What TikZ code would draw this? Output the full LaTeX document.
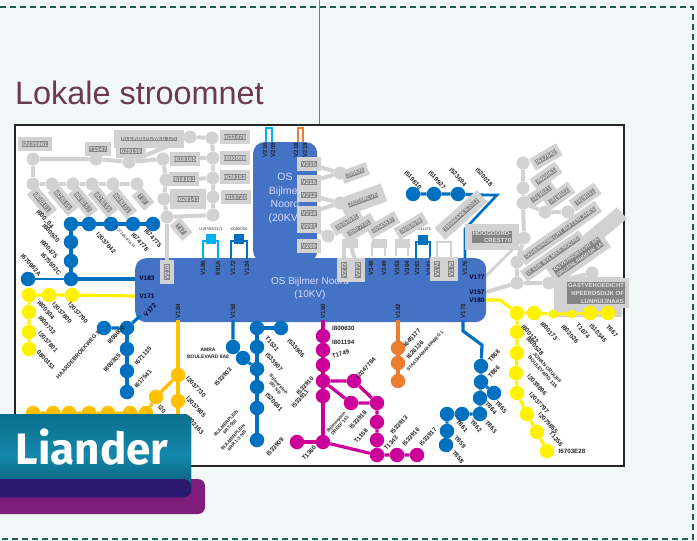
\documentclass[tikz,border=0pt]{standalone}
\usepackage{fontspec}
\setmainfont{Liberation Sans}
\newfontfamily\logofont{Fira Sans}
\usetikzlibrary{shapes.geometric}
\definecolor{bgc}{HTML}{F2F8F7}
\definecolor{bluec}{HTML}{0070C0}
\definecolor{busc}{HTML}{4472C4}
\definecolor{cyanc}{HTML}{00B0F0}
\definecolor{orangec}{HTML}{ED7D31}
\definecolor{goldc}{HTML}{FFC000}
\definecolor{yelc}{HTML}{FFF200}
\definecolor{magc}{HTML}{CC0099}
\definecolor{grayc}{HTML}{D2D2D2}
\definecolor{gtext}{HTML}{858585}
\definecolor{titlec}{HTML}{6B3A4C}
\definecolor{dashc}{HTML}{1F5C4A}
\definecolor{linec}{HTML}{3E9A7C}
\definecolor{purplec}{HTML}{7F1D7D}
\definecolor{overc}{HTML}{2A1A70}
\definecolor{tealA}{HTML}{0A6F8C}
\definecolor{tealB}{HTML}{1488AC}
\definecolor{tealC}{HTML}{0A4F68}
\tikzset{
 dotn/.style={circle,inner sep=0pt,minimum size=14.5pt},
 bd/.style={dotn,fill=bluec},
 yd/.style={dotn,fill=yelc},
 od/.style={dotn,fill=goldc},
 md/.style={dotn,fill=magc},
 rd/.style={dotn,fill=orangec},
 gd/.style={dotn,fill=grayc,minimum size=13pt},
 bl/.style={draw=bluec,line width=3.2pt},
 yl/.style={draw=yelc,line width=3.2pt},
 ol/.style={draw=goldc,line width=3.2pt},
 ml/.style={draw=magc,line width=3.2pt},
 rl/.style={draw=orangec,line width=3.2pt},
 gl/.style={draw=grayc,line width=4pt},
 bus/.style={fill=busc,rounded corners=11pt},
 gp/.style={preaction={draw=grayc,line width=#1}},
 gtag/.style={gp=8pt,fill=gtext,text=black!12,font=\fontsize{6}{6.6}\selectfont\bfseries,inner sep=.6pt,align=center},
 gsmall/.style={font=\fontsize{5.3}{6.2}\selectfont\bfseries},
 vtag/.style={font=\fontsize{6.2}{6.8}\selectfont\bfseries,text=black!85,inner sep=0pt,align=center},
 dwn/.style={vtag,rotate=-48},
 upp/.style={vtag,rotate=48},
 ver/.style={vtag,rotate=90},
 lab/.style={vtag,text=black!85!blue,font=\fontsize{6.5}{7}\selectfont\bfseries},
 wtxt/.style={text=white!85!blue,inner sep=0pt,align=center},
}
\begin{document}
\begin{tikzpicture}[x=1pt,y=-1pt]
\useasboundingbox (0,0) rectangle (697,541);
\fill[bgc] (0,0) rectangle (697,541);
\draw[dashc,line width=1.3pt,dash pattern=on 6pt off 4pt] (0,7) -- (693,7) -- (693,539) -- (0,539);
\coordinate (gtop) at (319,0); \coordinate (gbot) at (319,124);
\draw[linec,line width=1pt] (gtop) -- (gbot);
\node[anchor=west,text=titlec,font=\fontsize{32.4}{36}\selectfont,inner sep=0pt] (title) at (15,93) {Lokale stroomnet};
\node[draw=black!85,line width=1.8pt,fill=white,minimum width=609pt,minimum height=341pt,anchor=north west,inner sep=0pt] (frame) at (14,124) {};

% ---------- grey network, left
\foreach \n/\x/\y in {a1/33/159,a2/96/159,a3/129/162,a4/163/159,a5/166/180,a6/164/199,a7/167/217,
 b1/33/184,b2/52/184,b3/73/184,b4/92/184,b5/113/184,b6/137/184,
 c1/190/137,c2/212/138,c3/213/158,c4/213/178,c5/213/197,c6/213/215}
 {\node[gd] (\n) at (\x,\y) {};}
\draw[gl] (a1)--(a2)--(a3)--(a4)--(a5)--(a6)--(a7);
\draw[gl] (a1)--(b1)--(b2)--(b3)--(b4)--(b5)--(b6);
\draw[gl] (c1)--(c2)--(c3)--(c4)--(c5)--(c6);
\draw[gl] (a4)--(c3); \draw[gl] (a5)--(c4); \draw[gl] (a6)--(c5); \draw[gl] (a7)--(c6);
\draw[gl] (c1)--(a3);

% ---------- grey network, centre and right
\foreach \n/\x/\y in {d1/340/173,d2/340/203,d3/328/236,
 e1/523/163,e2/523/188,e3/523/203,e4/545/212,e5/568/212,e6/524/238,e7/517/262,e8/517/283,e9/549/283,e10/592/273}
 {\node[gd] (\n) at (\x,\y) {};}
\foreach \n/\x/\w in {d4/350/16,d5/379/15,d6/402/15}
 {\node[fill=grayc,minimum width=\w pt,minimum height=9pt,inner sep=0pt] (\n) at (\x,243) {};}
\draw[gl] (e1)--(e2)--(e3)--(e6)--(e7)--(e8)--(e9)--(e10);
\draw[gl] (e3)--(e4)--(e5);
\coordinate (f1) at (622,213); \coordinate (f2) at (556,268);
\draw[draw=grayc,line width=15pt] (f1)--(f2);
\node[fill=grayc,minimum width=68pt,minimum height=40pt,inner sep=0pt] (gbox) at (588,297) {};
\coordinate (f3) at (486,292); \coordinate (f4) at (486,276);
\draw[gl] (f3)--(e8); \draw[gl,line width=2.5pt] (f4)--(e6);

% ---------- buses
\node[bus,minimum width=64pt,minimum height=120pt,inner sep=0pt,anchor=north west] (os20) at (253,142) {};
\node[bus,minimum width=351pt,minimum height=64pt,inner sep=0pt,anchor=north west] (os10) at (135,258) {};
\node[wtxt,font=\fontsize{10.5}{13.6}\selectfont,anchor=north] (t20) at (285,173) {OS\\Bijlmer\\Noord\\(20KV)};
\node[wtxt,font=\fontsize{10}{13}\selectfont,anchor=north] (t10) at (310,277) {OS Bijlmer Noord\\(10KV)};

% ---------- top loops on the 20 kV bus
\coordinate (l1) at (266,142); \coordinate (l2) at (266,128); \coordinate (l3) at (272,128); \coordinate (l4) at (272,142);
\draw[cyanc,line width=1.9pt] (l1)--(l2)--(l3)--(l4);
\coordinate (m1) at (298,142); \coordinate (m2) at (298,128); \coordinate (m3) at (303,128); \coordinate (m4) at (303,142);
\draw[orangec,line width=1.9pt] (m1)--(m2)--(m3)--(m4);
\node[ver] (v1) at (265,150) {V216};
\node[ver] (v2) at (273,150) {V209};
\node[ver] (v3) at (296,150) {V218};
\node[ver] (v4) at (305,150) {V219};

% ---------- small loops on the 10 kV bus
\node[fill=cyanc,minimum size=9.5pt,inner sep=0pt] (q1) at (211,239) {};
\coordinate (q1a) at (203,259); \coordinate (q1b) at (203,241); \coordinate (q1c) at (218,241); \coordinate (q1d) at (218,259);
\draw[cyanc,line width=2.2pt] (q1a)--(q1b)--(q1c)--(q1d);
\node[fill=bluec,minimum size=9.5pt,inner sep=0pt] (q2) at (239,239) {};
\coordinate (q2a) at (231,259); \coordinate (q2b) at (231,241); \coordinate (q2c) at (247,241); \coordinate (q2d) at (247,259);
\draw[bluec,line width=2.2pt] (q2a)--(q2b)--(q2c)--(q2d);
\node[fill=bluec,minimum size=9.5pt,inner sep=0pt] (q3) at (423,240) {};
\coordinate (q3a) at (416,259); \coordinate (q3b) at (416,242); \coordinate (q3c) at (430,242); \coordinate (q3d) at (430,259);
\draw[bluec,line width=2.2pt] (q3a)--(q3b)--(q3c)--(q3d);
\node[vtag,font=\fontsize{3.8}{4}\selectfont] (q1t) at (211,229) {U197/85/2C/1};
\node[vtag,font=\fontsize{3.8}{4}\selectfont] (q2t) at (239,229) {I0080/700};
\node[vtag,font=\fontsize{3.8}{4}\selectfont] (q3t) at (423,229) {I5041275};
\foreach \n/\x/\t in {r1/203/V186,r2/218/691A,r3/233/V172,r4/247/V124,r5/371/V348,r6/384/V349,r7/397/V363,r8/407/V364,r9/417/V361,r10/429/V362,r11/465/V176}
 {\node[ver] (\n) at (\x,268) {\t};}

% ---------- grey boxes on the buses
\foreach \n/\x/\y/\t in {s1/167/272/V210,s2/344/270/V272,s3/358/270/V273,s4/437/269/V174,s5/451/269/V175}
 {\node[gtag,rotate=90] (\n) at (\x,\y) {\t};}
\draw[gl] (a7)--(s1);
\foreach \n/\y/\t in {u1/164/V215,u2/182/V215,u3/195/V212,u4/213/V214,u5/226/V207,u6/246/V209}
 {\node[gtag] (\n) at (309,\y) {\t};}
\draw[gl] (u1)--(d1); \draw[gl] (u3)--(d2); \draw[gl] (u4)--(d2); \draw[gl] (u2)--(d1); \draw[gl] (u5)--(d3);
\coordinate (s2a) at (344,243); \draw[gl] (d4)--(s2a)--(s2); \draw[gl] (d4)--(s3);
\coordinate (p1) at (372,256); \coordinate (p2) at (372,243); \coordinate (p3) at (385,243); \coordinate (p4) at (385,256);
\draw[gl,line width=2.5pt] (p1)--(p2)--(p3)--(p4);
\coordinate (p5) at (396,256); \coordinate (p6) at (396,243); \coordinate (p7) at (408,243); \coordinate (p8) at (408,256);
\draw[gl,line width=2.5pt] (p5)--(p6)--(p7)--(p8);
\coordinate (p9) at (437,258); \coordinate (p10) at (437,242); \coordinate (p11) at (451,242); \coordinate (p12) at (451,258);
\draw[gl,line width=2.5pt] (p9)--(p10)--(p11)--(p12);

% ---------- blue feeder top right
\node[bd] (h1) at (413,194) {}; \node[bd] (h2) at (434,194) {}; \node[bd] (h3) at (458,194) {};
\coordinate (h4) at (497,195); \coordinate (h5) at (465,229); \coordinate (h6) at (465,258); \coordinate (h7) at (483,195);
\draw[bl] (h1)--(h2)--(h3)--(h7);
\draw[bl,line width=2.6pt] (h7) -- (h4) -- (h5) -- (h6);

% ---------- grey labels
\node[gtag] (g1) at (35,144) {I2035961};
\node[gtag] (g2) at (98,149) {T1547};
\node[gtag,gp=14pt,gsmall] (g3) at (149,139) {KLEINBERGWEG 125};
\node[gtag] (g4) at (131,151) {629150};
\node[gtag] (g5) at (185,159) {I618165};
\node[gtag] (g6) at (184,179) {I618161};
\node[gtag,gp=14pt] (g7) at (188,199) {I628141};
\node[gtag] (g8) at (235,137) {I632478};
\node[gtag] (g9) at (235,158) {I800998};
\node[gtag] (g10) at (235,177) {I628153};
\node[gtag] (g11) at (236,197) {I618720};
\node[gtag,rotate=-50] (g12) at (42,202) {I800101};
\node[gtag,rotate=-50] (g13) at (63,200) {I628155};
\node[gtag,rotate=-50] (g14) at (83,202) {I628157};
\node[gtag,rotate=-50] (g15) at (103,202) {I628159};
\node[gtag,rotate=-50] (g16) at (122,203) {I628151};
\node[gtag,rotate=-50] (g17) at (143,199) {T37};
\node[gtag,rotate=-50] (g18) at (181,229) {T17};
\node[gtag,rotate=20,gsmall] (g19) at (355,173) {200631};
\node[gtag,rotate=20,gp=14pt,gsmall] (g20) at (363,200) {20210RCVE};
\node[gtag,rotate=30,gsmall] (g21) at (347,222) {20050081};
\node[gtag,rotate=30,gp=10pt,gsmall] (g22) at (359,228) {20077701};
\node[gtag,rotate=30,gsmall] (g23) at (383,225) {20045597};
\node[gtag,rotate=30,gsmall] (g24) at (411,226) {20050008};
\node[gtag,rotate=30] (g25) at (546,157) {I617542};
\node[gtag,rotate=35] (g26) at (546,176) {I800061};
\node[gtag,rotate=35] (g27) at (541,194) {I319021};
\node[gtag,rotate=35] (g28) at (559,196) {I319022};
\node[gtag,rotate=35] (g29) at (585,197) {I319031};
\node[gtag,rotate=35,gp=8pt,gsmall] (g30) at (560,233) {OUVERNORECHT BUITENLANES};
\node[gtag,rotate=35,gsmall] (g31) at (553,256) {IX EDE BYLMER NOORD};
\node[gtag,rotate=35,gp=10pt,gsmall] (g32) at (578,257) {OUVERNORECHT EN\\GROENLANDDIJK 1A};
\node[gtag,rotate=42,gp=11pt,gsmall] (g33) at (461,215) {1990MAKEN 2012};
\node[gtag,gp=14pt,align=right] (g34) at (492,237) {HOOGOORD-\\CREST70};
\node[gtag,align=right,font=\fontsize{6}{8}\selectfont\bfseries] (g35) at (596,293) {GASTVEHOEDICHT\\NPEERDSDIJK OF\\LUNHUIJNAAS};

% ---------- blue top left
\foreach \n/\x/\y in {k1/71/224,k2/89/224,k3/111/224,k4/133/224,k5/153/224,k6/71/242,k7/71/261,k8/71/279,k9/28/279}
 {\node[bd] (\n) at (\x,\y) {};}
\coordinate (k10) at (135,279);
\draw[bl] (k1)--(k2)--(k3)--(k4)--(k5); \draw[bl] (k1)--(k6)--(k7)--(k8)--(k10); \draw[bl,line width=1.6pt] (k9)--(k8);
% yellow left
\foreach \n/\x/\y in {y1/29/295,y2/49/295,y3/72/295,y4/29/312,y5/29/332,y6/29/349}
 {\node[yd] (\n) at (\x,\y) {};}
\coordinate (y7) at (135,296);
\draw[yl] (y7)--(y3)--(y2)--(y1)--(y4)--(y5)--(y6);
% blue V172
\foreach \n/\x/\y in {n1/104/328,n2/127/328,n3/127/349,n4/127/371,n5/127/392}
 {\node[bd] (\n) at (\x,\y) {};}
\coordinate (n6) at (140,316);
\draw[bl] (n6)--(n2)--(n1); \draw[bl] (n2)--(n3)--(n4)--(n5);
% gold V184
\foreach \n/\x/\y in {w1/178/375,w2/178/401,w3/156/397,w5/146/413,w6/130/413,w7/108/413,w8/89/413,w9/69/413,w10/53/413,w11/33/413}
 {\node[od] (\n) at (\x,\y) {};}
\coordinate (w0) at (178,320); \coordinate (w12) at (178,420);
\draw[ol] (w0)--(w1)--(w2)--(w12); \draw[ol] (w1)--(w3)--(w5)--(w6)--(w7)--(w8)--(w9)--(w10)--(w11);
% blue V158
\foreach \n/\x/\y in {x1/233/347,x2/243/358,x3/257/369,x4/257/328,x5/257/347,x6/257/387,x7/257/408,x8/257/440,x9/281/328}
 {\node[bd] (\n) at (\x,\y) {};}
\coordinate (x0) at (233,320);
\draw[bl] (x0)--(x1)--(x2)--(x3); \draw[bl] (x9)--(x4)--(x5)--(x3)--(x6)--(x7)--(x8);
% magenta V160
\foreach \n/\x/\y in {z1/323/336,z2/323/350,z3/323/365,z4/323/381,z5/323/396,z6/323/442,z7/297/442,z8/354/381,z9/351/403,z10/377/403,z11/377/422,z12/377/440,z13/377/455,z14/397/455,z15/417/455}
 {\node[md] (\n) at (\x,\y) {};}
\coordinate (z0) at (323,320);
\draw[ml] (z0)--(z1)--(z2)--(z3)--(z4)--(z5)--(z6)--(z7);
\draw[ml] (z4)--(z8)--(z10); \draw[ml] (z4)--(z9)--(z10)--(z11)--(z12)--(z13)--(z14)--(z15); \draw[ml] (z6)--(z13);
% orange V182
\foreach \n/\x/\y in {o1/398/348,o2/398/363,o3/398/381}
 {\node[rd] (\n) at (\x,\y) {};}
\coordinate (o0) at (398,320);
\draw[rl] (o0)--(o1)--(o2)--(o3);
% blue V178
\foreach \n/\x/\y in {t1/481/366,t2/481/382,t3/494/393,t4/480/398,t5/480/414,t6/462/414,t7/447/414,t8/447/431,t9/446/445}
 {\node[bd] (\n) at (\x,\y) {};}
\coordinate (t0) at (463,320); \coordinate (t00) at (463,331); \coordinate (t01) at (482,345);
\draw[bl] (t0)--(t00)--(t01)--(t1)--(t2)--(t4)--(t5)--(t6)--(t7)--(t8)--(t9); \draw[bl] (t2)--(t3);
% yellow V180
\foreach \n/\x/\y in {c11/517/313,c12/534/313,c15/590/313,c16/608/313,c17/517/332,c18/517/353,c19/516/373,c20/517/393,c21/527/414,c22/537/432,c23/547/451}
 {\node[yd] (\n) at (\x,\y) {};}
\node[yd,minimum size=9pt] (c13) at (553,314) {};
\node[yd,minimum size=9pt] (c14) at (572,314) {};
\coordinate (c10) at (486,300); \coordinate (c24) at (500,300);
\draw[yl] (c10)--(c24)--(c11)--(c12)--(c13)--(c14)--(c15)--(c16);
\draw[yl] (c11)--(c17)--(c18)--(c19)--(c20)--(c21)--(c22)--(c23);

% ---------- bus voltage labels
\node[lab] (bv1) at (147,278) {V183};
\node[lab] (bv2) at (147,296) {V171};
\node[lab,rotate=48] (bv3) at (150,310) {V172};
\node[ver] (bv4) at (178,311) {V184};
\node[ver] (bv5) at (233,311) {V158};
\node[ver] (bv6) at (323,311) {V160};
\node[ver] (bv7) at (398,311) {V182};
\node[ver] (bv8) at (463,311) {V178};
\node[lab] (bv9) at (477,277) {V177};
\node[lab] (bv10) at (477,292) {V157};
\node[lab] (bv11) at (477,300) {V180};

% ---------- black labels
\node[dwn] (i1) at (45,219) {I800..04};
\node[dwn] (i2) at (51,233) {I800920};
\node[dwn] (i3) at (49,249) {I800475};
\node[dwn] (i4) at (51,264) {I675502C};
\node[dwn] (i5) at (31,265) {I670982A};
\node[dwn] (i6) at (106,243) {I2037642};
\node[dwn,font=\fontsize{4}{4.5}\selectfont] (i7) at (125,237) {I627345/4/16 M};
\node[dwn] (i8) at (140,242) {I674776};
\node[dwn] (i9) at (153,238) {I674775};
\node[dwn] (i10) at (413,180) {I519810};
\node[dwn] (i11) at (437,180) {I519927};
\node[dwn] (i12) at (458,177) {I523694};
\node[dwn] (i13) at (484,177) {I520018};
\node[dwn] (j1) at (46,310) {I800304};
\node[dwn] (j2) at (62,313) {I2037800};
\node[dwn] (j3) at (78,313) {I2037790};
\node[dwn] (j4) at (47,325) {I800732};
\node[dwn] (j5) at (48,342) {I2037801};
\node[dwn] (j6) at (46,360) {0800151};
\node[upp,font=\fontsize{5.6}{6}\selectfont\bfseries] (j7) at (78,355) {HAARDEBROEKWEG 3};
\node[upp] (j8) at (116,335) {I800006};
\node[upp] (j9) at (112,363) {I800305};
\node[upp] (j10) at (143,356) {I671135};
\node[upp] (j11) at (143,379) {I617541};
\node[vtag,font=\fontsize{5}{7}\selectfont\bfseries] (j12) at (208,353) {AMRA\\BOULEVARD 8A8};
\node[dwn] (j13) at (196,387) {I2037730};
\node[dwn] (j14) at (196,407) {I2037905};
\node[dwn] (j15) at (195,425) {I802163};
\node[dwn] (j16) at (162,409) {I20};
\node[upp] (j17) at (223,377) {I533903};
\node[upp,font=\fontsize{4.6}{5.2}\selectfont\bfseries] (j18) at (228,425) {BIJLMERPLEIN\\6R7-008};
\node[upp,font=\fontsize{4.6}{5.2}\selectfont\bfseries] (j19) at (235,439) {BIJLMERPLEIN\\6RR 1-3 NB};
\node[dwn] (j20) at (272,344) {T1521};
\node[dwn] (j21) at (274,362) {I533907};
\node[dwn,font=\fontsize{4.5}{5}\selectfont\bfseries] (j22) at (277,386) {Bijlmerplein\\393 NB};
\node[dwn] (j23) at (274,402) {I520661};
\node[dwn] (j24) at (296,348) {I533906};
\node[upp] (j25) at (275,447) {I533909};
\node[vtag,anchor=west] (m10) at (332,328) {I800630};
\node[vtag,anchor=west] (m11) at (332,342) {I801194};
\node[vtag,anchor=west,rotate=18] (m12) at (332,357) {T1749};
\node[upp] (m13) at (366,368) {I2047784};
\node[upp] (m14) at (305,386) {I533910};
\node[upp] (m15) at (300,399) {I533911};
\node[upp,font=\fontsize{4.5}{5}\selectfont\bfseries] (m16) at (338,424) {Bijlmerplein\\DREEF 143};
\node[upp] (m17) at (358,420) {I533918};
\node[upp] (m18) at (361,436) {T1158};
\node[upp] (m19) at (399,425) {I533913};
\node[upp] (m20) at (391,443) {T1343};
\node[upp] (m21) at (411,437) {I533916};
\node[upp] (m22) at (428,437) {I533917};
\node[upp] (m23) at (309,453) {T1360};
\node[upp] (m24) at (412,338) {I645177};
\node[upp] (m25) at (415,350) {I626136};
\node[upp,font=\fontsize{4.5}{5}\selectfont\bfseries] (m26) at (425,351) {STAADHAMAKERWEG 1};
\node[upp] (b11) at (494,356) {T868};
\node[upp] (b12) at (494,372) {T866};
\node[dwn] (b13) at (501,407) {T865};
\node[dwn] (b14) at (491,408) {T864};
\node[dwn] (b15) at (491,427) {T863};
\node[dwn] (b16) at (476,426) {T862};
\node[dwn] (b17) at (462,426) {T861};
\node[dwn] (b18) at (460,442) {T859};
\node[dwn] (b19) at (458,457) {T858};
\node[dwn] (y11) at (530,334) {I800122};
\node[dwn] (y12) at (549,331) {I800173};
\node[dwn] (y13) at (570,334) {I802026};
\node[dwn] (y14) at (583,331) {T1074};
\node[dwn] (y15) at (598,333) {I510345};
\node[dwn] (y16) at (612,331) {T867};
\node[dwn] (y17) at (535,346) {I800528};
\node[dwn,font=\fontsize{5}{6}\selectfont\bfseries] (y18) at (545,370) {JOHAN CRUIJFF\\BOULEVARD 135};
\node[dwn] (y19) at (537,385) {I2039896};
\node[dwn] (y20) at (539,403) {I2037797};
\node[dwn] (y21) at (548,423) {I2079855};
\node[dwn] (y22) at (556,439) {T1256};
\node[vtag] (y23) at (572,451) {I6703E28};

% ---------- logo
\fill[purplec,rounded corners=7pt] (-8,479) rectangle (205,514);
\fill[top color=tealA,bottom color=tealC,middle color=tealB,rounded corners=7pt] (-8,414) rectangle (191,497);
\fill[overc,rounded corners=7pt] (-8,479) rectangle (191,497);
\node[text=white,font=\logofont\bfseries\fontsize{44}{44}\selectfont,inner sep=0pt] (logo) at (92,447) {Liander};
\end{tikzpicture}
\end{document}
